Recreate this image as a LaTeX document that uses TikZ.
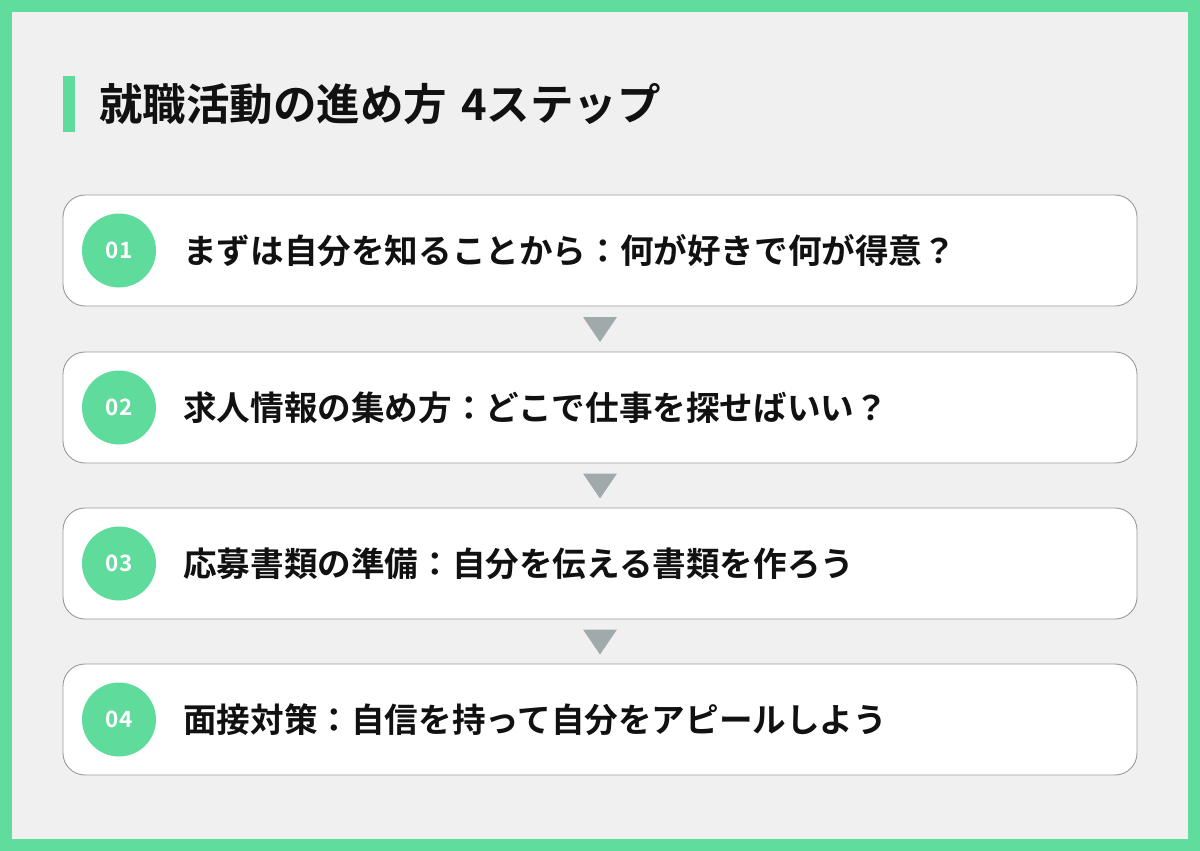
\documentclass[tikz,border=0pt]{standalone}
\usepackage{fontspec}
\setmainfont{Noto Sans CJK JP}[BoldFont={Noto Sans CJK JP Bold}]
\usetikzlibrary{calc}
\definecolor{framegreen}{HTML}{60DC9D}
\definecolor{bggray}{HTML}{F0F0F0}
\definecolor{circgreen}{HTML}{5FDB9B}
\definecolor{boxline}{HTML}{9A9A9A}
\definecolor{trigray}{HTML}{A0AAAA}
\definecolor{textblack}{HTML}{111111}
\tikzset{
  stepbox/.style={draw=boxline, line width=0.9pt, fill=white, rounded corners=22pt,
    minimum width=1074pt, minimum height=111pt, inner sep=0pt},
  numcirc/.style={circle, fill=circgreen, minimum size=74pt, inner sep=0pt,
    text=white, font=\bfseries\fontsize{22.5}{26}\selectfont},
  steptext/.style={anchor=west, inner sep=0pt, text=textblack,
    font=\bfseries\fontsize{33.6}{38}\selectfont},
  arrowtri/.style={fill=trigray}
}
\begin{document}
\begin{tikzpicture}[x=1pt,y=-1pt]
\useasboundingbox (0,0) rectangle (1200,851);
\fill[framegreen] (0,0) rectangle (1200,851);
\fill[bggray] (12,12) rectangle (1188,839);
\fill[circgreen] (63,76) rectangle (75,132);
\node[anchor=west, inner sep=0pt, text=textblack, font=\bfseries\fontsize{43.5}{50}\selectfont] (title) at (99,104) {就職活動の進め方\hspace{14pt}4ステップ};

\node[stepbox] (b1) at (600,250.5) {};
\node[numcirc] (n1) at (119,250.5) {01};
\node[steptext] (s1) at (183,250.5) {まずは自分を知ることから：何が好きで何が得意？};

\node[stepbox] (b2) at (600,407.5) {};
\node[numcirc] (n2) at (119,407.5) {02};
\node[steptext] (s2) at (183,407.5) {求人情報の集め方：どこで仕事を探せばいい？};

\node[stepbox] (b3) at (600,563.5) {};
\node[numcirc] (n3) at (119,563.5) {03};
\node[steptext] (s3) at (183,563.5) {応募書類の準備：自分を伝える書類を作ろう};

\node[stepbox] (b4) at (600,719.5) {};
\node[numcirc] (n4) at (119,719.5) {04};
\node[steptext] (s4) at (183,719.5) {面接対策：自信を持って自分をアピールしよう};

\foreach \a/\b in {b1/b2,b2/b3,b3/b4}{
  \coordinate (m) at ($(\a.south)!0.5!(\b.north)$);
  \fill[arrowtri] ($(m)+(-17,-12)$) -- ($(m)+(17,-12)$) -- ($(m)+(0,13)$) -- cycle;
}
\end{tikzpicture}
\end{document}
